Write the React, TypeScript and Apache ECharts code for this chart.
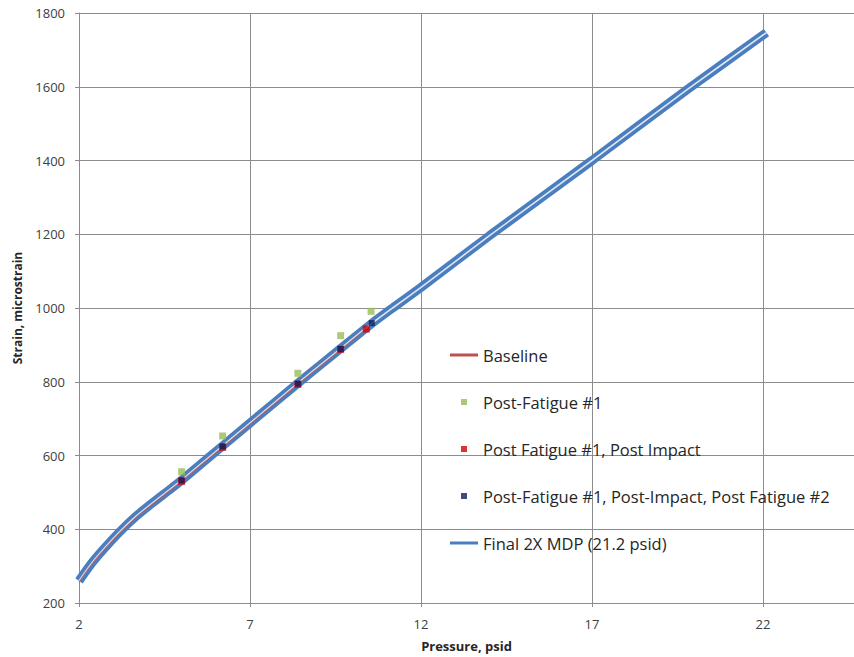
import React, { useEffect, useRef } from "react";
import * as echarts from "echarts";

// Final 2X MDP (21.2 psid) curve: [pressure psid, microstrain]
const finalCurve: [number, number][] = [
  [2, 260], [2.32, 302], [2.71, 345], [3.19, 393], [3.68, 436], [4.17, 473],
  [4.66, 508], [5, 533], [5.54, 575], [6.2, 626], [7, 688], [8.4, 796],
  [9.65, 890], [10.56, 958], [11.2, 1002], [12, 1056], [14, 1196], [17, 1400],
  [19.75, 1590], [22.1, 1747],
];
// Baseline curve
const baseline: [number, number][] = [
  [2, 257], [2.32, 299], [2.71, 342], [3.19, 390], [3.68, 433], [4.17, 470],
  [4.66, 505], [5, 530], [5.54, 572], [6.2, 623], [7, 685], [8.4, 793],
  [9.65, 887], [10.4, 944],
];
// Marker series
const postFatigue1: [number, number][] = [
  [5.0, 556], [6.2, 653], [8.4, 823], [9.65, 925], [10.54, 991],
];
const postImpact: [number, number][] = [
  [5.0, 530], [6.2, 622], [8.4, 793], [9.65, 888], [10.4, 943],
];
const postFatigue2: [number, number][] = [
  [5.0, 533], [6.2, 625], [8.4, 795], [9.65, 889], [10.56, 959],
];

const seriesNames = [
  "Baseline",
  "Post-Fatigue #1",
  "Post Fatigue #1, Post Impact",
  "Post-Fatigue #1, Post-Impact, Post Fatigue #2",
  "Final 2X MDP (21.2 psid)",
];
const xTicks = { min: 2, max: 24.66, interval: 5 };
const yTicks = { min: 200, max: 1800, interval: 200 };

const FONT = "'Open Sans', Lato, sans-serif";
const LINE_ICON = "path://M0,0h28v3h-28z";
const SQ_ICON = "path://M0,0h1v1h-1z";

export default function App() {
  const ref = useRef<HTMLDivElement>(null);
  useEffect(() => {
    if (!ref.current) return;
    const chart = echarts.init(ref.current, undefined, { renderer: "svg" });
    const gridColor = "#8c8c8c";
    chart.setOption({
      animation: false,
      textStyle: { fontFamily: FONT },
      grid: { left: 79, top: 13, right: 0, bottom: 53, containLabel: false },
      xAxis: {
        type: "value",
        min: xTicks.min,
        max: xTicks.max,
        interval: xTicks.interval,
        name: "Pressure, psid",
        nameLocation: "middle",
        nameGap: 36,
        nameTextStyle: { fontFamily: FONT, fontWeight: "bold", fontSize: 13, color: "#262626" },
        axisLine: { lineStyle: { color: gridColor, width: 1 } },
        axisTick: { show: true, length: 4, lineStyle: { color: gridColor } },
        axisLabel: { showMaxLabel: false, color: "#404040", fontSize: 13, margin: 14, fontFamily: FONT },
        splitLine: { show: true, lineStyle: { color: gridColor, width: 1 } },
      },
      yAxis: {
        type: "value",
        min: yTicks.min,
        max: yTicks.max,
        interval: yTicks.interval,
        name: "Strain, microstrain",
        nameLocation: "middle",
        nameGap: 56,
        nameTextStyle: { fontFamily: FONT, fontWeight: "bold", fontSize: 12, color: "#262626" },
        axisLine: { show: true, lineStyle: { color: gridColor, width: 1 } },
        axisTick: { show: true, length: 4, lineStyle: { color: gridColor } },
        axisLabel: {
          color: "#404040",
          fontSize: 13,
          margin: 14,
          fontFamily: FONT,
          formatter: (v: number) => String(v),
        },
        splitLine: { show: true, lineStyle: { color: gridColor, width: 1 } },
      },
      legend: {
        orient: "vertical",
        left: 445,
        top: 340,
        itemWidth: 28,
        itemHeight: 6,
        itemGap: 27,
        itemStyle: { borderWidth: 0 },
        textStyle: { fontFamily: FONT, fontSize: 16.5, color: "#262626", lineHeight: 20 },
        data: [
          { name: seriesNames[0], icon: LINE_ICON },
          { name: seriesNames[1], icon: SQ_ICON },
          { name: seriesNames[2], icon: SQ_ICON },
          { name: seriesNames[3], icon: SQ_ICON },
          { name: seriesNames[4], icon: LINE_ICON },
        ],
      },
      series: [
        {
          name: seriesNames[4],
          type: "line",
          data: finalCurve,
          smooth: 0.2,
          symbol: "none",
          color: "#4a7ebf",
          lineStyle: { color: "#4a7ebf", width: 9 },
          z: 2,
        },
        {
          name: "final-inner",
          type: "line",
          data: finalCurve,
          smooth: 0.2,
          symbol: "none",
          lineStyle: { color: "#dde7f4", width: 1.6 },
          z: 3,
        },
        {
          name: seriesNames[0],
          type: "line",
          data: baseline,
          smooth: 0.2,
          symbol: "none",
          color: "#c0504d",
          lineStyle: { color: "#c0504d", width: 1.2, opacity: 0.75 },
          z: 4,
        },
        {
          name: seriesNames[1],
          type: "scatter",
          data: postFatigue1,
          symbol: "rect",
          symbolSize: 7,
          color: "#9bbb59",
          itemStyle: { color: "#9bbb59" },
          z: 5,
        },
        {
          name: seriesNames[2],
          type: "scatter",
          data: postImpact,
          symbol: "rect",
          symbolSize: 7,
          color: "#d40000",
          itemStyle: { color: "#d40000" },
          z: 6,
        },
        {
          name: seriesNames[3],
          type: "scatter",
          data: postFatigue2,
          symbol: "rect",
          symbolSize: 6,
          color: "#0b1f5c",
          itemStyle: { color: "#0b1f5c" },
          z: 7,
        },
      ],
    });
    return () => chart.dispose();
  }, []);
  return (
    <div
      ref={ref}
      style={{ position: "fixed", left: 0, top: 0, width: 854, height: 657, background: "#ffffff" }}
    />
  );
}
